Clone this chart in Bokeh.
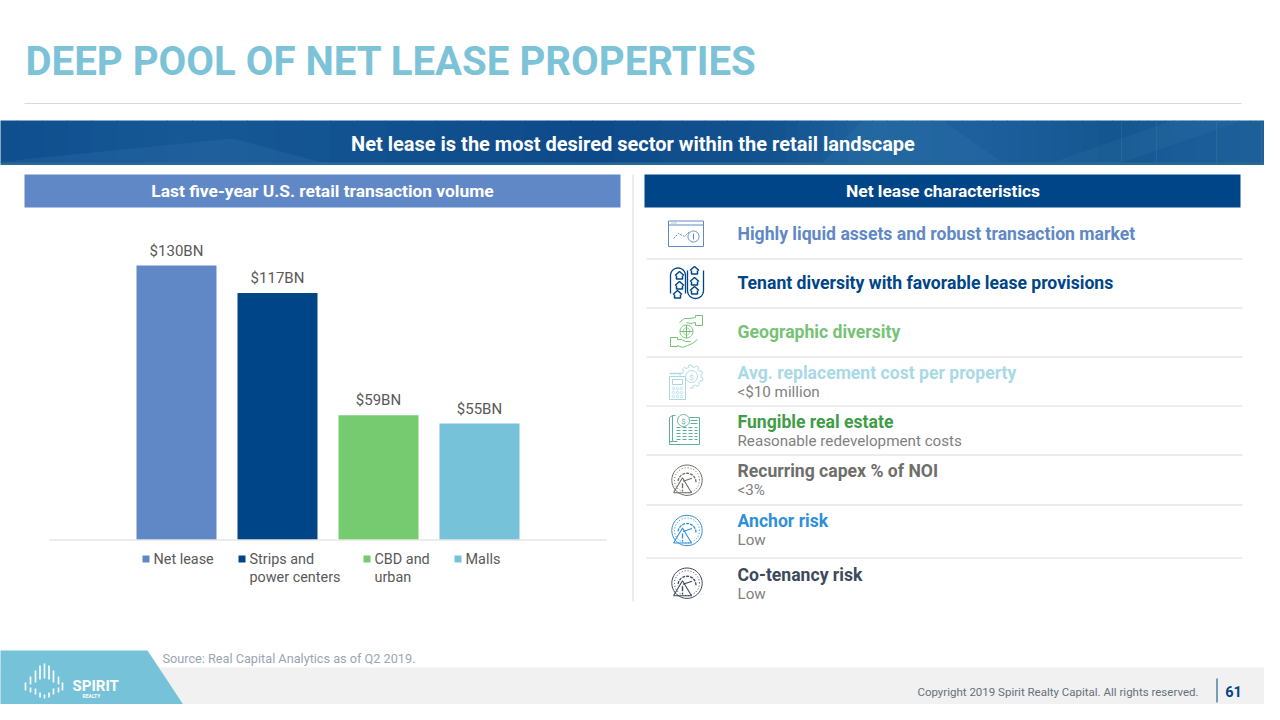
from math import cos, sin, pi
from bokeh.plotting import figure
from bokeh.models import Range1d
from bokeh.core.properties import value
from bokeh.embed import file_html
from bokeh.resources import INLINE

# ---- chart data
categories = ["Net lease", "Strips and\npower centers", "CBD and\nurban", "Malls"]
volumes = [130, 117, 59, 55]
bar_labels = ["$130BN", "$117BN", "$59BN", "$55BN"]
bar_colors = ["#6088c6", "#004587", "#76cb70", "#75c2d9"]

# ---- slide text
title = "DEEP POOL OF NET LEASE PROPERTIES"
banner = "Net lease is the most desired sector within the retail landscape"
left_head = "Last five-year U.S. retail transaction volume"
right_head = "Net lease characteristics"
rows = ["Highly liquid assets and robust transaction market",
        "Tenant diversity with favorable lease provisions",
        "Geographic diversity",
        "Avg. replacement cost per property",
        "Fungible real estate",
        "Recurring capex % of NOI",
        "Anchor risk",
        "Co-tenancy risk"]
row_subs = ["", "", "", "<$10 million", "Reasonable redevelopment costs", "<3%", "Low", "Low"]
row_colors = ["#6088c6", "#004587", "#76c376", "#a9d9e6", "#3f9c47", "#6e6e6a", "#2f8fdc", "#3d4a5c"]
source = "Source: Real Capital Analytics as of Q2 2019."
copyright_text = "Copyright 2019 Spirit Realty Capital. All rights reserved."
page_no = "61"

FONT = "Roboto"
TXT = "#595959"

# The figure's main ranges are the picture's pixels; the bars have their own scale.
L, R, T, B = 8, 1272, 8, 712
p = figure(width=R - L, height=B - T, x_range=(L, R), y_range=(B, T),
           output_backend="svg", toolbar_location=None, min_border=0,
           background_fill_color="white", border_fill_color="white", outline_line_color=None)
p.axis.visible = False
p.grid.visible = False

BASE_Y, TOP_Y, CX0, STEP = 547.0, 273.0, 184.0, 101.0
px_per = (BASE_Y - TOP_Y) / max(volumes)
p.extra_y_ranges["vol"] = Range1d(-(B - BASE_Y) / px_per, (BASE_Y - T) / px_per)
p.extra_x_ranges["cat"] = Range1d((L - CX0) / STEP, (R - CX0) / STEP)


def txt(x, y, s, size, color, bold=False, align="left", font=FONT):
    p.text([x], [y], text=[s], text_font=value(font), text_font_size=f"{size}px",
           text_color=color, text_align=align, text_baseline="middle",
           text_font_style="bold" if bold else "normal")


def box(x0, x1, y0, y1, color, alpha=1.0):
    p.quad(left=[x0], right=[x1], top=[y0], bottom=[y1], fill_color=color, fill_alpha=alpha, line_color=None)


def pl(xs, ys, color, w=1.0, alpha=1.0, dash="solid"):
    p.line(xs, ys, line_color=color, line_width=w, line_alpha=alpha, line_dash=dash)


def arc_pts(cx, cy, r, a0, a1, n=24):
    ang = [a0 + (a1 - a0) * i / n for i in range(n + 1)]
    return [cx + r * cos(a) for a in ang], [cy - r * sin(a) for a in ang]


def circ(cx, cy, r, color, w=1.0, dash="solid"):
    xs, ys = arc_pts(cx, cy, r, 0, 2 * pi, 36)
    pl(xs, ys, color, w, dash=dash)


def mix(c0, c1, t):
    a = [int(c0[i:i + 2], 16) for i in (1, 3, 5)]
    b = [int(c1[i:i + 2], 16) for i in (1, 3, 5)]
    return "#%02x%02x%02x" % tuple(round(u + (v - u) * t) for u, v in zip(a, b))


# ---- header
txt(33, 68.5, title, 40.2, "#7cc3d8", bold=True)
pl([32, 1249], [111, 111], "#d9d9d9", 1)
stops = [(0, "#0f4e8e"), (200, "#165896"), (420, "#11508f"), (600, "#0e4a8a"), (780, "#12528f"),
         (880, "#1f639f"), (1000, "#1c5f9c"), (1120, "#14568f"), (1190, "#1a5c98"), (1280, "#1d6099")]
for (x0, c0), (x1, c1) in zip(stops, stops[1:]):
    for i in range(8):
        xa = x0 + (x1 - x0) * i / 8
        xb = x0 + (x1 - x0) * (i + 1) / 8 + 0.5
        box(xa, xb, 128, 170.5, mix(c0, c1, (i + .5) / 8))
box(0, 1280, 170, 172.5, "#2c6a94")
p.patch([0, 240, 330, 60], [170, 146, 170, 170], fill_color="#3a7cb2", fill_alpha=.22, line_color=None)
p.patch([870, 950, 1010, 830], [128, 128, 170, 170], fill_color="#4a88b8", fill_alpha=.14, line_color=None)
p.patch([1180, 1250, 1130, 1060], [128, 128, 170, 170], fill_color="#4a88b8", fill_alpha=.12, line_color=None)
txt(640.5, 151.5, banner, 20, "white", bold=True, align="center")

box(32, 628, 182, 215, "#6088c6")
box(652, 1248, 182, 215, "#004587")
txt(330, 198.5, left_head, 17.4, "white", bold=True, align="center")
txt(950.5, 198.5, right_head, 17.4, "white", bold=True, align="center")
pl([640.5, 640.5], [182, 609], "#d9d9d9", 1)

# ---- bar chart
idx = list(range(len(volumes)))
p.vbar(x=idx, top=volumes, bottom=0, width=80 / STEP, fill_color=bar_colors, line_color=None,
       x_range_name="cat", y_range_name="vol")
p.text(x=idx, y=volumes, text=bar_labels, y_offset=-6, text_align="center",
       text_baseline="bottom", text_font=value(FONT), text_font_size="15px", text_color=TXT,
       x_range_name="cat", y_range_name="vol")
pl([57, 614], [547.5, 547.5], "#d9d9d9", 1)

# legend
for lx, c, name in zip([150, 246, 371, 462], bar_colors, categories):
    box(lx, lx + 7, 563, 570, c)
    for k, part in enumerate(name.split("\n")):
        txt(lx + 11, 567 + 17.5 * k, part, 14.4, TXT)

# ---- table
for y in [266, 315, 364, 413, 462, 512, 565]:
    pl([654, 1250], [y + .5, y + .5], "#d9d9d9", 1)
head_y = [241, 290, 339, 380, 429, 478, 528, 582]
sub_y = [None, None, None, 399, 448, 497, 547, 601]
for s, sub, c, y, sy in zip(rows, row_subs, row_colors, head_y, sub_y):
    txt(745, y, s, 17.6, c, bold=True)
    if sub:
        txt(745, sy, sub, 15.2, "#7f7f7f")

# ---- icons
# 1 browser with trend
c = "#6088c6"
pl([676, 711, 711, 676, 676], [228.5, 228.5, 254, 254, 228.5], c, 1)
pl([676, 711], [232.5, 232.5], c, 1)
pl([679, 685], [230.5, 230.5], c, 1, dash="1 1")
pl([681, 686, 692, 697], [246, 241, 244, 239], c, 1, dash="2 1")
circ(701, 244, 5.5, c, 1)
pl([701, 701], [241, 247], c, 1)

# 2 house capsules
c = "#004587"
xs, ys = arc_pts(685.5, 283, 7.5, pi, 0)
pl([678] + xs + [693], [301] + ys + [301], c, 1.3)
xs, ys = arc_pts(703, 298, 8, pi, 2 * pi)
pl([695] + xs + [711], [278] + ys + [278], c, 1.3)
for hx, hy in [(687, 283), (687, 293), (685, 302), (702, 278), (702, 289), (702, 298)]:
    pl([hx - 4.5, hx, hx + 4.5], [hy, hy - 4, hy], c, 1.5)
    pl([hx - 3, hx - 3, hx + 3, hx + 3], [hy, hy + 3.5, hy + 3.5, hy], c, 1.5)

# 3 hands and globe
c = "#76c376"
circ(694, 339, 6.5, c, 1)
pl([687.5, 700.5], [339, 339], c, 1)
pl([694, 694], [332.5, 345.5], c, 1)
xs, ys = arc_pts(694, 339, 3.5, pi / 2, 3 * pi / 2)
pl(xs, ys, c, .8)
xs, ys = arc_pts(694, 339, 3.5, -pi / 2, pi / 2)
pl(xs, ys, c, .8)
pl([687, 692, 697, 703, 703, 710, 710, 703, 703, 698, 694],
   [330, 326, 326, 325, 323, 323, 333, 333, 330, 331, 330], c, 1)
pl([705, 700, 695, 690, 685, 685, 678, 678, 685, 685, 689, 693, 698],
   [347, 351, 353, 355, 353, 354, 354, 345, 345, 347, 347, 349, 349], c, 1)

# 4 calculator and gear
c = "#a9d9e6"
pl([677, 693, 693, 677, 677], [384, 384, 407, 407, 384], c, 1)
pl([680, 690, 690, 680, 680], [387, 387, 392, 392, 387], c, 1)
pl([677, 688], [381, 381], c, 1.4)
for gx in [681, 685, 689]:
    for gy in [396, 400, 404]:
        circ(gx, gy, 1.2, c, .9)
gear_x, gear_y = [], []
for i in range(0, 61):
    a = -1.7 + (4.9 * i / 60)
    r = 11.5 if (i // 4) % 2 == 0 else 9.5
    gear_x.append(699 + r * cos(a))
    gear_y.append(384 - r * sin(a))
pl(gear_x, gear_y, c, 1)
circ(699, 384, 6, c, 1)
txt(699, 384.5, "$", 8, c, align="center")

# 5 ledger with dollar
c = "#5fae9a"
pl([677, 677, 680, 680, 677], [452, 425, 423, 449, 449], c, 1)
pl([680, 683], [423, 423], c, 1)
pl([677, 707, 707, 697], [452, 452, 425, 425], c, 1)
pl([680, 685], [449, 449], c, 1)
circ(691, 428, 6, c, 1)
txt(691, 428.5, "$", 8, c, align="center")
for ly in [435, 438, 441, 444, 447]:
    pl([684, 688], [ly, ly], c, 1)
    pl([690, 694], [ly, ly], c, 1)
    pl([696, 700], [ly, ly], c, 1)
for ly in [428, 431]:
    pl([698, 705], [ly, ly], c, 1)
for ly in [435, 438, 441, 444, 447]:
    pl([702, 705], [ly, ly], c, 1)

# 6-8 gauge with warning triangle
for cy, c in [(487.7, "#6e6e6a"), (538, "#2f8fdc"), (590.7, "#3d4a5c")]:
    cx = 694.5
    circ(cx, cy, 15.2, c, 1)
    circ(cx, cy, 12.5, c, 1, dash="1 2")
    xs, ys = arc_pts(cx, cy + 2, 9, 0.0, pi, 14)
    pl(xs, ys, c, 1.3, dash="3 1")
    pl([cx - 4, cx + 5], [cy + 1, cy - 2], c, 1.2)
    pl([cx - 13.5, cx - 4.5, cx + 4.5, cx - 13.5], [cy + 12.5, cy - 2.5, cy + 12.5, cy + 12.5], c, 1.1)
    pl([cx - 4.5, cx - 4.5], [cy + 3, cy + 8], c, 1.4)
    pl([cx - 4.5, cx - 4.5], [cy + 9.5, cy + 11], c, 1.4)

# ---- footer
box(0, 1280, 675, 720, "#f1f1f1")
p.patch([0, 155, 196, 0], [658, 658, 720, 720], fill_color="#75c2d9", line_color=None)
txt(170, 665.5, source, 12.7, "#9aa5b4")
txt(1206, 699.5, copyright_text, 11.5, "#66707c", align="right")
pl([1224.5, 1224.5], [686, 710], "#004587", 1)
txt(1241, 698.5, page_no, 14.5, "#004587", bold=True, align="center")

# logo
logo = [(33, 690, 698), (38, 684, 692), (38, 695, 700), (43, 678, 690), (43, 696, 702),
        (47.5, 673, 687), (47.5, 700, 705), (52, 671, 686), (52, 702, 706), (56.5, 673, 687),
        (56.5, 700, 705), (61, 678, 690), (61, 696, 702), (66, 684, 692), (66, 695, 700), (70, 690, 698)]
for lx, y0, y1 in logo:
    pl([lx, lx], [y0, y1], "white", 1.7, alpha=.95)
txt(80, 693, "SPIRIT", 15, "white", bold=True)
txt(90, 703, "REALTY", 5, "white", bold=True)

open("out.html", "w").write(file_html(p, INLINE))
